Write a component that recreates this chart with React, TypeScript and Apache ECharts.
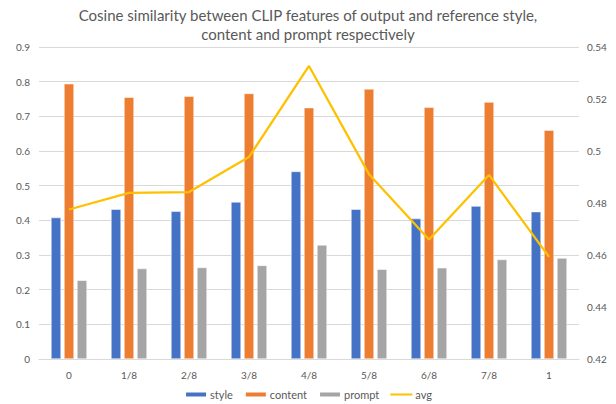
import React, { useEffect, useRef } from "react";
import * as echarts from "echarts";

const categories = ["0", "1/8", "2/8", "3/8", "4/8", "5/8", "6/8", "7/8", "1"];
const styleValues = [0.408, 0.432, 0.426, 0.453, 0.541, 0.432, 0.405, 0.441, 0.425];
const contentValues = [0.794, 0.755, 0.758, 0.766, 0.725, 0.779, 0.726, 0.741, 0.66];
const promptValues = [0.227, 0.261, 0.264, 0.27, 0.329, 0.259, 0.263, 0.287, 0.291];
const avgValues = [0.4775, 0.4839, 0.4842, 0.4977, 0.5327, 0.4911, 0.466, 0.4908, 0.4593];

const TITLE = "Cosine similarity between CLIP features of output and reference style,\ncontent and prompt respectively";
const FONT = "Lato";
const GRAY = "#595959";

export default function App() {
  const ref = useRef<HTMLDivElement>(null);
  useEffect(() => {
    if (!ref.current) return;
    const chart = echarts.init(ref.current, undefined, { renderer: "svg" });
    const fmt = (v: number) => String(+v.toFixed(2));
    const barCommon = {
      type: "bar" as const,
      barWidth: 10,
      barGap: "30%",
      itemStyle: { borderColor: "#ffffff", borderWidth: 0.5 },
    };
    chart.setOption({
      animation: false,
      textStyle: { fontFamily: FONT },
      title: {
        text: TITLE,
        left: "center",
        top: 0,
        textStyle: { fontFamily: FONT, fontSize: 15, fontWeight: "normal", color: GRAY, lineHeight: 19 },
      },
      grid: { left: 39, right: 37, top: 47, bottom: 45 },
      legend: {
        bottom: -1,
        left: "center",
        itemWidth: 22,
        itemHeight: 6,
        itemGap: 11,
        textStyle: { fontFamily: FONT, fontSize: 11, color: GRAY, padding: [0, 0, 0, -2] },
        data: [
          { name: "style", icon: "rect" },
          { name: "content", icon: "rect" },
          { name: "prompt", icon: "rect" },
          { name: "avg", icon: "path://M0,0 M0,6 M0,2 L22,2 L22,4 L0,4 Z" },
        ],
      },
      xAxis: {
        type: "category",
        data: categories,
        axisTick: { show: false },
        axisLine: { lineStyle: { color: "#d9d9d9", width: 1 } },
        axisLabel: { color: GRAY, fontSize: 10, margin: 11, fontFamily: FONT },
      },
      yAxis: [
        {
          type: "value",
          min: 0,
          max: 0.9,
          interval: 0.1,
          axisLine: { show: false },
          axisTick: { show: false },
          splitLine: { lineStyle: { color: "#d9d9d9", width: 1 } },
          axisLabel: { color: GRAY, fontSize: 10, margin: 9, formatter: fmt, fontFamily: FONT },
        },
        {
          type: "value",
          min: 0.42,
          max: 0.54,
          interval: 0.02,
          axisLine: { show: false },
          axisTick: { show: false },
          splitLine: { show: false },
          axisLabel: { color: GRAY, fontSize: 10, margin: 8, formatter: fmt, fontFamily: FONT },
        },
      ],
      series: [
        { ...barCommon, name: "style", data: styleValues, itemStyle: { ...barCommon.itemStyle, color: "#4472C4" } },
        { ...barCommon, name: "content", data: contentValues, itemStyle: { ...barCommon.itemStyle, color: "#ED7D31" } },
        { ...barCommon, name: "prompt", data: promptValues, itemStyle: { ...barCommon.itemStyle, color: "#A5A5A5" } },
        {
          type: "line",
          name: "avg",
          yAxisIndex: 1,
          data: avgValues,
          symbol: "none",
          lineStyle: { color: "#FFC000", width: 2.25 },
          itemStyle: { color: "#FFC000" },
        },
      ],
    });
    return () => chart.dispose();
  }, []);
  return <div ref={ref} style={{ width: 616, height: 404, position: "absolute", left: 0, top: 0 }} />;
}
